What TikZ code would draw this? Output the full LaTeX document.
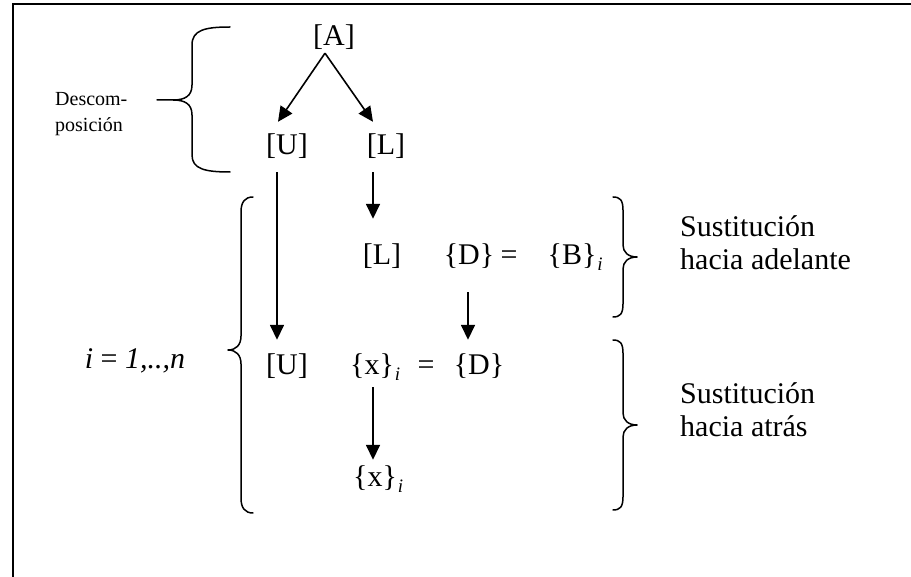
\documentclass[tikz,border=0pt]{standalone}
\usepackage{fontspec}
\setmainfont{Liberation Serif}
\usetikzlibrary{arrows.meta}
\newcommand\subi{\rlap{\kern1pt\raisebox{-6pt}{\fontsize{19}{19}\selectfont\itshape i}}}
\begin{document}
\begin{tikzpicture}[x=1pt,y=-1pt,
  main/.style={font=\fontsize{30}{30}\selectfont, inner sep=0pt, text height=21pt, text depth=5pt},
  side/.style={font=\fontsize{30}{30}\selectfont, inner sep=0pt, anchor=base west},
  small/.style={font=\fontsize{20}{26}\selectfont, inner sep=0pt, anchor=west, align=left},
  arr/.style={draw, line width=1.6pt, -{Triangle[length=15pt,width=14pt]}},
  brace/.style={draw, line width=1.5pt, line join=round, line cap=round}]
\useasboundingbox (0,0) rectangle (911,577);
% frame
\draw[line width=2pt] (911,4) -- (12.5,4) -- (12.5,577);
% nodes
\node[main] (A) at (334,38) {[A]};
\node[main] (U) at (287,147) {[U]};
\node[main] (L) at (386,147) {[L]};
\node[main] (L2) at (382,257) {[L]};
\node[main] (D1) at (469,257) {\{D\}};
\node[main] (eq1) at (509,257) {=};
\node[main] (B) at (572,257) {\{B\}\subi};
\node[main] (U2) at (287,367) {[U]};
\node[main] (X1) at (372,367) {\{x\}\subi};
\node[main] (eq2) at (426,367) {=};
\node[main] (D2) at (479,367) {\{D\}};
\node[main] (X3) at (375,478) {\{x\}\subi};
\node[main] (iter) at (135,361) {\textit{i} = \textit{1,..,n}};
\node[small] (dec) at (55,114) {Descom-\\posición};
\node[side] (S1a) at (680,237) {Sustitución};
\node[side] (S1b) at (680,270) {hacia adelante};
\node[side] (S2a) at (680,404) {Sustitución};
\node[side] (S2b) at (680,437) {hacia atrás};
% connectors
\coordinate (apex) at ([xshift=-9pt,yshift=-2pt]A.south);
\draw[arr] (apex) -- ([xshift=-9pt,yshift=12pt]U.north);
\draw[arr] (apex) -- ([xshift=-13pt,yshift=12pt]L.north);
\draw[arr] ([xshift=-10pt,yshift=-12pt]U.south) -- ([xshift=-10pt,yshift=14pt]U2.north);
\draw[arr] ([xshift=-13pt,yshift=-12pt]L.south) -- ([xshift=-9pt,yshift=25pt]L2.north);
\draw[arr] ([xshift=-1pt,yshift=-22pt]D1.south) -- ([xshift=-11pt,yshift=14pt]D2.north);
\draw[arr] ([xshift=1pt,yshift=-7pt]X1.south) -- ([xshift=-2pt,yshift=5pt]X3.north);
% braces
\draw[brace] (230,27) .. controls (205,27) and (192,30) .. (192,45) -- (192,85)
  .. controls (192,96) and (185,100) .. (173,100) -- (157,100)
  (173,100) .. controls (185,100) and (192,104) .. (192,115) -- (192,155)
  .. controls (192,169) and (205,172) .. (230,172);
\draw[brace] (253,197) .. controls (245,197) and (241,202) .. (241,212) -- (241,336)
  .. controls (241,345) and (236,350) .. (228,350)
  .. controls (236,350) and (241,355) .. (241,364) -- (241,498)
  .. controls (241,508) and (245,513) .. (253,513);
\draw[brace] (613,197) .. controls (620,197) and (623,200) .. (623,210) -- (623,245)
  .. controls (623,252) and (628,257) .. (637,257)
  .. controls (628,257) and (623,262) .. (623,269) -- (623,304)
  .. controls (623,314) and (620,317) .. (613,317);
\draw[brace] (613,340) .. controls (620,340) and (623,343) .. (623,353) -- (623,413)
  .. controls (623,420) and (628,425) .. (637,425)
  .. controls (628,425) and (623,430) .. (623,437) -- (623,497)
  .. controls (623,507) and (620,510) .. (613,510);
\end{tikzpicture}
\end{document}
